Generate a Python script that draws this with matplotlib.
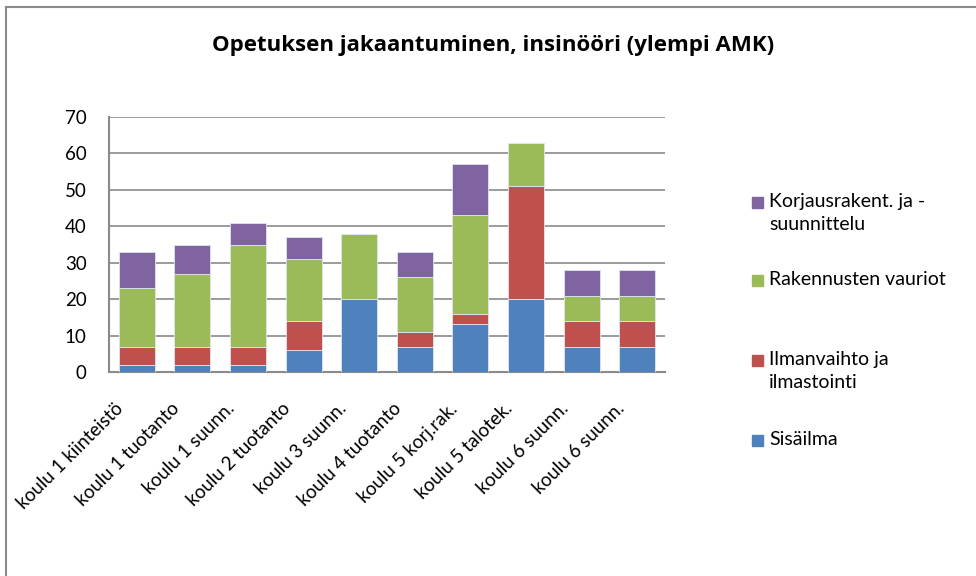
import matplotlib.pyplot as plt
import numpy as np
from matplotlib.patches import Rectangle
from matplotlib.lines import Line2D
from matplotlib.transforms import ScaledTranslation

categories = ["koulu 1 kiinteistö", "koulu 1 tuotanto", "koulu 1 suunn.",
              "koulu 2 tuotanto", "koulu 3 suunn.", "koulu 4 tuotanto",
              "koulu 5 korj.rak.", "koulu 5 talotek.", "koulu 6 suunn.",
              "koulu 6 suunn."]
sisailma = [2, 2, 2, 6, 20, 7, 13.3, 20, 7, 7]
ilmanvaihto = [5, 5, 5, 8, 0, 4, 2.7, 31, 7, 7]
vauriot = [16, 20, 28, 17, 18, 15, 27, 12, 7, 7]
korjaus = [10, 8, 6, 6, 0, 7, 14, 0, 7, 7]

series = [
    ("Sisäilma", sisailma, "#4F81BD"),
    ("Ilmanvaihto ja\nilmastointi", ilmanvaihto, "#C0504D"),
    ("Rakennusten vauriot", vauriot, "#9BBB59"),
    ("Korjausrakent. ja -\nsuunnittelu", korjaus, "#8064A2"),
]

plt.rcParams["font.family"] = ["Lato", "DejaVu Sans"]

fig = plt.figure(figsize=(9.76, 5.76), dpi=100)
ax = fig.add_axes([109 / 976, 1 - 372 / 576, 556 / 976, 255 / 576])

x = np.arange(len(categories))
bottom = np.zeros(len(categories))
for name, vals, col in series:
    vals = np.array(vals, dtype=float)
    ax.bar(x, vals, 0.65, bottom=bottom, color=col, edgecolor="#dfe6f0",
           linewidth=0.6, zorder=3)
    bottom += vals

ax.set_xlim(-0.5, len(categories) - 0.5)
ax.set_ylim(0, 70)
ax.set_yticks(range(0, 71, 10))
ax.yaxis.grid(True, color="#8a8a8a", linewidth=1.2, zorder=0)
ax.tick_params(length=0, labelsize=13.5, colors="black")
ax.tick_params(axis="y", pad=16)
for s in ["top", "right"]:
    ax.spines[s].set_visible(False)
for s in ["left", "bottom"]:
    ax.spines[s].set_color("#8a8a8a")
    ax.spines[s].set_linewidth(1.5)

ax.set_xticks(x)
ax.set_xticklabels(categories, rotation=45, ha="right", va="top",
                   rotation_mode="anchor", fontsize=13.5)
off = ScaledTranslation(-22 / 100, -23 / 100, fig.dpi_scale_trans)
for lab in ax.get_xticklabels():
    lab.set_transform(lab.get_transform() + off)

fig.text(493 / 976, 1 - 45 / 576, "Opetuksen jakaantuminen, insinööri (ylempi AMK)",
         ha="center", va="center", fontsize=16, fontweight="bold",
         family=["Open Sans", "DejaVu Sans"])

# legend, top entry first
legend_y = [202, 280, 360, 440]
for (name, vals, col), yy in zip(series[::-1], legend_y):
    fig.add_artist(Rectangle((752 / 976, 1 - (yy + 6) / 576), 11 / 976, 11 / 576,
                             transform=fig.transFigure, color=col))
    fig.text(769 / 976, 1 - (yy - 9) / 576, name, ha="left", va="top",
             fontsize=14, linespacing=1.45)

# chart frame
fig.add_artist(Line2D([6 / 976, 1], [1 - 7 / 576] * 2, transform=fig.transFigure,
                      color="#8a8a8a", linewidth=1.5))
fig.add_artist(Line2D([6 / 976] * 2, [0, 1 - 7 / 576], transform=fig.transFigure,
                      color="#8a8a8a", linewidth=1.5))

fig.savefig("out.png", dpi=100)
